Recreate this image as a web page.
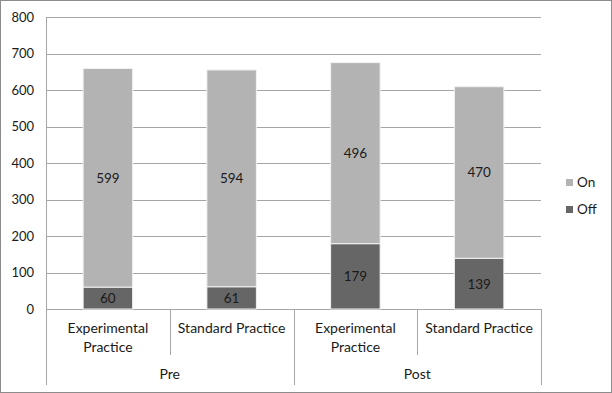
<!DOCTYPE html>
<html>
<head>
<meta charset="utf-8">
<script src="https://cdn.jsdelivr.net/npm/d3@7"></script>
<style>
  body { margin: 0; background: #fff; }
  text { font-family: Lato, 'Open Sans', sans-serif; fill: #1a1a1a; }
</style>
</head>
<body>
<div id="chart"></div>
<script>
let groups = ['Pre', 'Post']
let categories = ['Experimental Practice', 'Standard Practice', 'Experimental Practice', 'Standard Practice']
let catGroup = ['Pre', 'Pre', 'Post', 'Post']
let offValues = [60, 61, 179, 139]
let onValues = [599, 594, 496, 470]
let yTicks = [0, 100, 200, 300, 400, 500, 600, 700, 800]

let width = 612
let height = 393
let margin = { top: 17, left: 46, right: 71, bottom: 84 }

let svg = d3
  .select('#chart')
  .append('svg')
  .attr('width', width)
  .attr('height', height)

svg
  .append('rect')
  .attr('x', 0.5)
  .attr('y', 0.5)
  .attr('width', width - 1)
  .attr('height', height - 1)
  .attr('fill', '#fff')
  .attr('stroke', '#8c8c8c')

let x = d3
  .scaleBand()
  .domain(d3.range(categories.length))
  .range([margin.left, width - margin.right])
  .paddingInner(0.6)
  .paddingOuter(0.3)

let y = d3
  .scaleLinear()
  .domain([0, 800])
  .range([height - margin.bottom, margin.top])

let x0 = margin.left
let x1 = width - margin.right

// gridlines
svg
  .append('g')
  .selectAll('line')
  .data(yTicks)
  .enter()
  .append('line')
  .attr('x1', x0)
  .attr('x2', x1)
  .attr('y1', d => Math.round(y(d)) + 0.5)
  .attr('y2', d => Math.round(y(d)) + 0.5)
  .attr('stroke', '#a6a6a6')

// y labels
svg
  .append('g')
  .selectAll('text')
  .data(yTicks)
  .enter()
  .append('text')
  .attr('x', x0 - 12)
  .attr('y', d => y(d) + 4.5)
  .attr('text-anchor', 'end')
  .attr('font-size', 13)
  .text(d => d)

// left axis line and category separators
let yBase = height - margin.bottom
svg
  .append('line')
  .attr('x1', x0 + 0.5)
  .attr('x2', x0 + 0.5)
  .attr('y1', margin.top)
  .attr('y2', 385)
  .attr('stroke', '#a6a6a6')

let seps = d3.range(1, categories.length + 1)
svg
  .append('g')
  .selectAll('line')
  .data(seps)
  .enter()
  .append('line')
  .attr('x1', d => Math.round(x0 + d * (x1 - x0) / categories.length) + 0.5)
  .attr('x2', d => Math.round(x0 + d * (x1 - x0) / categories.length) + 0.5)
  .attr('y1', yBase)
  .attr('y2', d => (d % 2 === 0 ? 385 : 355))
  .attr('stroke', '#a6a6a6')

// stacked bars
let stackData = categories.map((c, i) => ({ i: i, off: offValues[i], on: onValues[i] }))
let series = d3.stack().keys(['off', 'on'])(stackData)
let colors = { off: '#666666', on: '#b3b3b3' }

series.forEach(s => {
  let g = svg.append('g')
  g.selectAll('rect')
    .data(s)
    .enter()
    .append('rect')
    .attr('x', d => x(d.data.i))
    .attr('width', x.bandwidth())
    .attr('y', d => y(d[1]))
    .attr('height', d => y(d[0]) - y(d[1]))
    .attr('fill', colors[s.key])
    .attr('stroke', '#f2f2f2')
    .attr('stroke-width', 1)

  g.selectAll('text')
    .data(s)
    .enter()
    .append('text')
    .attr('x', d => x(d.data.i) + x.bandwidth() / 2)
    .attr('y', d => (y(d[0]) + y(d[1])) / 2 + 5)
    .attr('text-anchor', 'middle')
    .attr('font-size', 13.5)
    .text(d => d.data[s.key])
})

// category labels
let catLabels = svg.append('g')
categories.forEach((c, i) => {
  let cx = x0 + (i + 0.5) * (x1 - x0) / categories.length
  let t = catLabels
    .append('text')
    .attr('x', cx)
    .attr('y', 333)
    .attr('text-anchor', 'middle')
    .attr('font-size', 14)
  let words = c.split(' ')
  if (c.length > 18) {
    t.append('tspan').attr('x', cx).text(words[0])
    t.append('tspan').attr('x', cx).attr('dy', 18.5).text(words.slice(1).join(' '))
  } else {
    t.text(c)
  }
})

// group labels
groups.forEach((g, gi) => {
  let idx = catGroup.map((d, i) => (d === g ? i : -1)).filter(i => i >= 0)
  let gx0 = x0 + idx[0] * (x1 - x0) / categories.length
  let gx1 = x0 + (idx[idx.length - 1] + 1) * (x1 - x0) / categories.length
  svg
    .append('text')
    .attr('x', (gx0 + gx1) / 2)
    .attr('y', 379)
    .attr('text-anchor', 'middle')
    .attr('font-size', 14)
    .text(g)
})

// legend
let legendItems = [
  { key: 'on', label: 'On' },
  { key: 'off', label: 'Off' }
]
let legend = svg
  .append('g')
  .selectAll('g')
  .data(legendItems)
  .enter()
  .append('g')
  .attr('transform', (d, i) => `translate(566, ${179 + i * 27})`)

legend
  .append('rect')
  .attr('width', 7)
  .attr('height', 7)
  .attr('fill', d => colors[d.key])

legend
  .append('text')
  .attr('x', 11)
  .attr('y', 8)
  .attr('font-size', 13.5)
  .text(d => d.label)
</script>
</body>
</html>
